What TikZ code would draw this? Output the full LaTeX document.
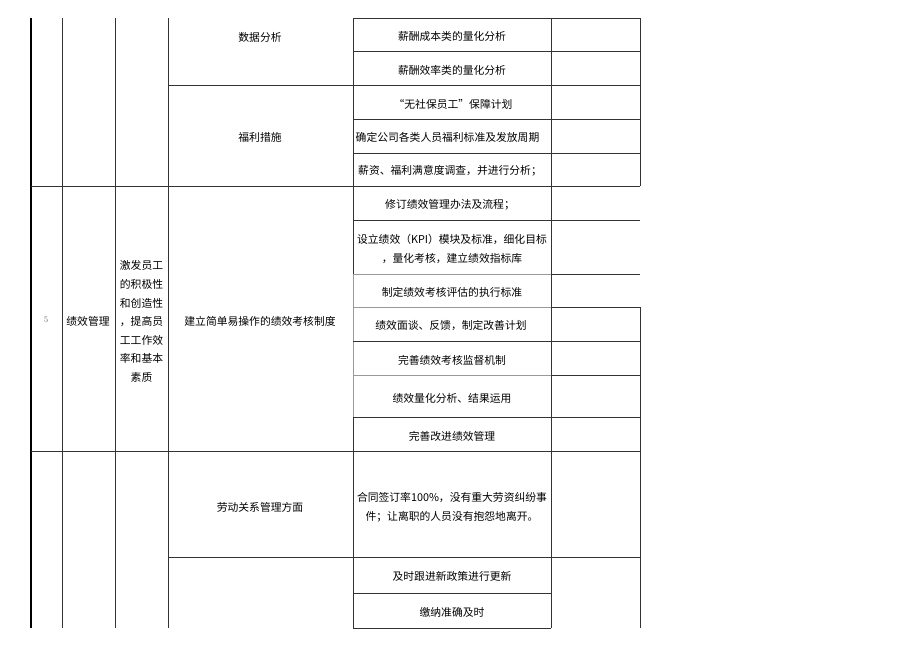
\documentclass[tikz,border=0pt]{standalone}
\usepackage{fontspec}
\newfontfamily\cjk{Noto Sans CJK SC}

\begin{document}
\begin{tikzpicture}[x=1pt, y=-1pt,
			every node/.style = {font=\cjk\fontsize{10.8}{18.6}\selectfont,
				align=center, inner sep=0pt},
			rule/.style = {draw=black!80, line width=0.8pt},
			thinrule/.style = {draw=black!40, line width=0.8pt},
			edge/.style = {draw=black, line width=1.8pt}]
	\useasboundingbox (0,0) rectangle (920,651);
	% column rules
	\draw[edge] (31,18) -- (31,628.3);
	\draw[rule] (62,18) -- (62,628.3) (115,18) -- (115,628.3)
		(168,18) -- (168,628.3) (551,18) -- (551,628.3)
		(640,18) -- (640,186.3) (640,307.3) -- (640,628.3);
	\draw[rule] (353,18) -- (353,274) (353,417.7) -- (353,628.3);
	\draw[thinrule] (353,274) -- (353,417.7);
	% row rules
	\draw[rule] (353,18) -- (640,18) (353,51.7) -- (640,51.7)
		(168,85.3) -- (640,85.3) (353,119) -- (640,119)
		(353,153) -- (640,153) (31,186.3) -- (640,186.3)
		(353,220) -- (640,220) (551,274) -- (640,274)
		(551,307.3) -- (640,307.3) (353,341.3) -- (640,341.3)
		(551,375) -- (640,375) (353,417.7) -- (640,417.7)
		(31,451.7) -- (640,451.7) (168,557.7) -- (640,557.7)
		(353,593.3) -- (551,593.3) (353,628.3) -- (551,628.3);
	\draw[thinrule] (353,274) -- (551,274) (353,307.3) -- (551,307.3)
		(353,375) -- (551,375);
	% salary / welfare
	\node (sjfx) at (260,37) {数据分析};
	\node (flcs) at (260,137) {福利措施};
	\node (xccb) at (452,36.5) {薪酬成本类的量化分析};
	\node (xcxl) at (452,70) {薪酬效率类的量化分析};
	\node (wsbyg) at (453,104) {“无社保员工”保障计划};
	\node (flbz) at (447.5,137.5) {确定公司各类人员福利标准及发放周期};
	\node (myd) at (450,171) {薪资、福利满意度调查，并进行分析；};
	% performance
	\node (xh) at (46,320) {\normalfont\fontsize{8.5}{9}\selectfont\color{black!60}5};
	\node (jxgl) at (88,321.5) {绩效管理};
	\node (mubiao) at (141.5,321.5) {激发员工\\的积极性\\和创造性\\，提高员\\工工作效\\率和基本\\素质};
	\node (zhidu) at (260,321.5) {建立简单易操作的绩效考核制度};
	\node (xdbf) at (450,205) {修订绩效管理办法及流程；};
	\node (kpi) at (452,249.2) {设立绩效（KPI）模块及标准，细化目标\\，量化考核，建立绩效指标库};
	\node (zxbz) at (452,292.7) {制定绩效考核评估的执行标准};
	\node (mt) at (451,325.7) {绩效面谈、反馈，制定改善计划};
	\node (jd) at (452,360) {完善绩效考核监督机制};
	\node (lh) at (452,398.3) {绩效量化分析、结果运用};
	\node (gj) at (452,436.7) {完善改进绩效管理};
	% labour relations
	\node (ldgx) at (260,507) {劳动关系管理方面};
	\node (htqd) at (452,507.5) {合同签订率100\%，没有重大劳资纠纷事\\件；让离职的人员没有抱怨地离开。};
	\node (xzc) at (452,576.7) {及时跟进新政策进行更新};
	\node (jn) at (452,612.7) {缴纳准确及时};
\end{tikzpicture}
\end{document}
